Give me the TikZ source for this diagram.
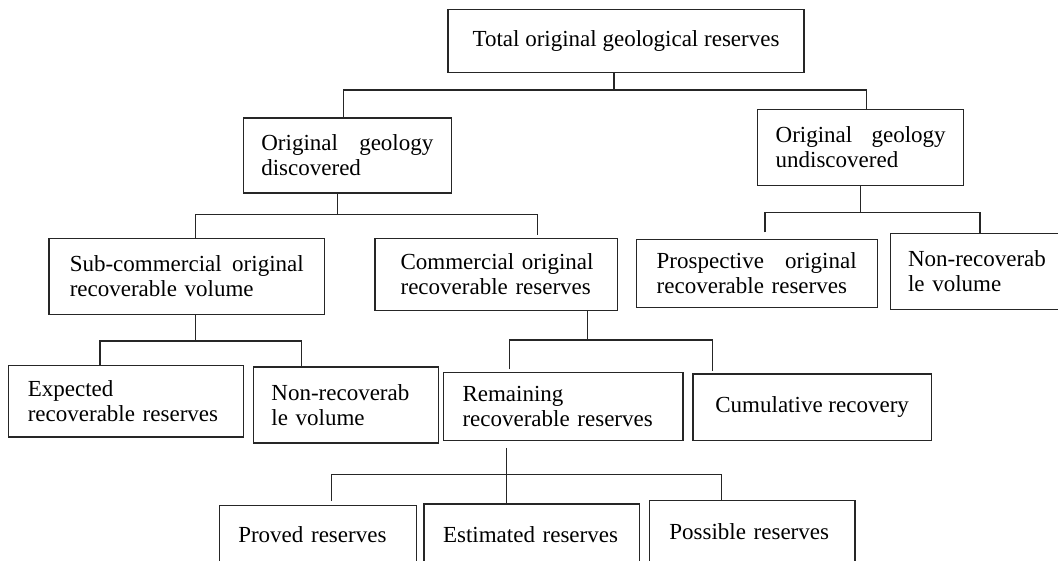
\documentclass[tikz,border=0pt]{standalone}
\usepackage{fontspec}
\setmainfont{Liberation Serif}
\usetikzlibrary{calc}
\tikzset{
  box/.style={draw=black!85, line width=1.1pt, align=left, inner ysep=0pt,
    font=\fontsize{23}{25}\selectfont},
  conn/.style={draw=black!85, line width=1.1pt}
}
\newcommand{\spreadline}[3]{\hbox to #1{#2\hfill #3}}
\begin{document}
\begin{tikzpicture}[x=1pt,y=-1pt]
\useasboundingbox (0,0) rectangle (1058,560);
\clip (0,0) rectangle (1058,560);

% level 0
\node[box, align=center, minimum width=356pt, minimum height=63pt] (tot) at (626,40.8)
  {Total original geological reserves};

% level 1
\node[box, text width=172pt, inner xsep=18pt, minimum height=75pt] (disc) at (347.35,155.5)
  {\spreadline{172pt}{Original}{geology}\\\mbox{discovered}};
\node[box, text width=170pt, inner xsep=18.15pt, minimum height=76.4pt] (undisc) at (860.65,147.5)
  {\spreadline{170pt}{Original}{geology}\\\mbox{undiscovered}};

% level 2
\node[box, text width=234pt, inner xsep=20.75pt, minimum height=76.3pt] (subc) at (186.75,276.2)
  {\spreadline{234pt}{Sub-commercial}{original}\\\mbox{recoverable volume}};
\node[box, text width=191pt, inner xsep=25.6pt, minimum height=71.7pt] (comm) at (496.1,274.2)
  {\mbox{Commercial original}\\\mbox{recoverable reserves}};
\node[box, text width=200pt, inner xsep=20.5pt, minimum height=67.7pt] (prosp) at (756.7,273.2)
  {\spreadline{200pt}{Prospective}{original}\\\mbox{recoverable reserves}};
\node[box, text width=164.5pt, inner xsep=17.5pt, minimum height=75.8pt] (nonr1) at (990.25,271.4)
  {\mbox{Non-recoverab}\\\mbox{le volume}};

% level 3
\node[box, text width=196.9pt, inner xsep=19pt, minimum height=71.7pt] (exp) at (126.25,401.15)
  {\mbox{Expected}\\\mbox{recoverable reserves}};
\node[box, text width=149.2pt, inner xsep=17.5pt, minimum height=76pt] (nonr2) at (346,405)
  {\mbox{Non-recoverab}\\\mbox{le volume}};
\node[box, text width=201.5pt, inner xsep=19pt, minimum height=67.6pt] (rem) at (563.25,406.5)
  {\mbox{Remaining}\\\mbox{recoverable reserves}};
\node[box, align=center, minimum width=238.3pt, minimum height=66.7pt] (cum) at (812.15,407.35)
  {Cumulative recovery};

% level 4
\node[box, text width=159.4pt, inner xsep=19pt, minimum height=57.6pt] (prov) at (318,534.5)
  {\mbox{Proved reserves}};
\node[box, text width=177.3pt, inner xsep=19pt, minimum height=61pt] (est) at (531.65,534.5)
  {\mbox{Estimated reserves}};
\node[box, text width=166pt, inner xsep=19.6pt, minimum height=60.9pt] (poss) at (752.35,531.15)
  {\mbox{Possible reserves}};

% connectors
\coordinate (tB) at (614,90);
\coordinate (tL) at (343.8,90);
\coordinate (tR) at (866.4,90);
\draw[conn] (tot.south -| tB) -- (tB);
\draw[conn] (disc.north -| tL) |- (tR) -- (undisc.north -| tR);

\coordinate (dB) at (337.7,214.3);
\coordinate (dL) at (195.7,214.3);
\coordinate (dR) at (537.5,214.3);
\draw[conn] (disc.south -| dB) -- (dB);
\draw[conn] (subc.north -| dL) |- (dR) -- ($(comm.north -| dR)+(0,-3)$);

\coordinate (uB) at (860.3,212.3);
\coordinate (uL) at (765,212.3);
\coordinate (uR) at (980,212.3);
\draw[conn] (undisc.south -| uB) -- (uB);
\draw[conn] ($(prosp.north -| uL)+(0,-6.5)$) |- (uR) -- (nonr1.north -| uR);

\coordinate (sB) at (195.7,341);
\coordinate (sL) at (100,341);
\coordinate (sR) at (301.9,341);
\draw[conn] (subc.south -| sB) -- (sB);
\draw[conn] (exp.north -| sL) |- (sR) -- (nonr2.north -| sR);

\coordinate (cB) at (587.5,340);
\coordinate (cL) at (509.5,340);
\coordinate (cR) at (712.6,340);
\draw[conn] (comm.south -| cB) -- (cB);
\draw[conn] ($(rem.north -| cL)+(0,-2.7)$) |- (cR) -- ($(cum.north -| cR)+(0,-2.3)$);

\coordinate (rB) at (506.4,474.3);
\coordinate (rL) at (331.6,474.3);
\coordinate (rR) at (721.7,474.3);
\draw[conn] ($(rem.south -| rB)+(0,7)$) -- (est.north -| rB);
\draw[conn] ($(prov.north -| rL)+(0,-4)$) |- (rR) -- (poss.north -| rR);
\end{tikzpicture}
\end{document}
